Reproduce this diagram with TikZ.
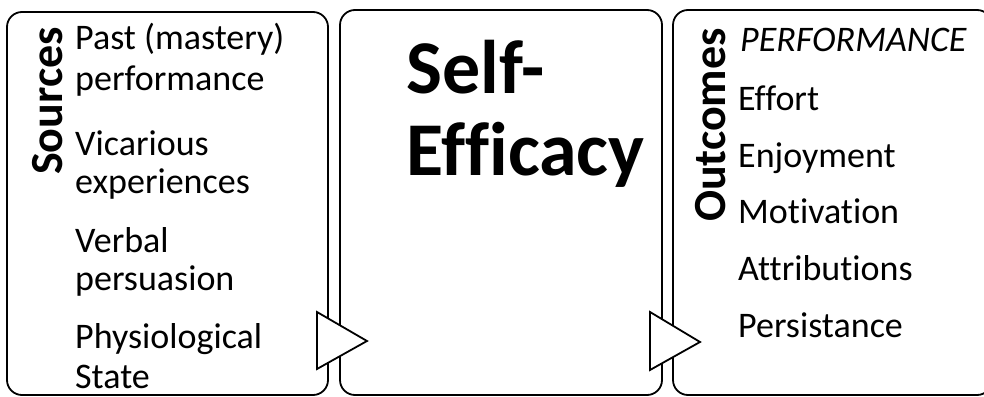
\documentclass[tikz,border=0pt]{standalone}
\usepackage{fontspec}
\setmainfont{Carlito}[Ligatures=NoCommon]
\begin{document}
\begin{tikzpicture}[x=1pt,y=-1pt]
\tikzset{
  panel/.style={draw=black, line width=1.8pt, rounded corners=15pt, fill=white},
  chevron/.style={draw=black, line width=1.8pt, fill=white, line join=miter},
  item/.style={anchor=base west, inner sep=0pt, font=\fontsize{36}{40}\selectfont},
  head/.style={anchor=base, inner sep=0pt, rotate=90, font=\bfseries\fontsize{46}{50}\selectfont},
  title/.style={anchor=base west, inner sep=0pt, font=\bfseries\fontsize{76}{82}\selectfont}
}
\useasboundingbox (0,0) rectangle (984,396);
\clip (0,0) rectangle (984,396);
% panels
\draw[panel] (7,12) rectangle (328,395);
\draw[panel] (340,10) rectangle (662,395);
\draw[panel] (673,10) rectangle (992,395);
% chevrons
\draw[chevron] (317,312) -- (367,341) -- (317,369) -- cycle;
\draw[chevron] (650,312) -- (700,342) -- (650,370) -- cycle;
% sources
\node[head] (src) at (62,101) {Sources};
\node[item] (s1a) at (75,50) {Past (mastery)};
\node[item] (s1b) at (75,90) {performance};
\node[item] (s2a) at (75,155) {Vicarious};
\node[item] (s2b) at (75,193) {experiences};
\node[item] (s3a) at (75,252) {Verbal};
\node[item] (s3b) at (75,290) {persuasion};
\node[item] (s4a) at (75,348) {Physiological};
\node[item] (s4b) at (75,388) {State};
% self-efficacy
\node[title] (se1) at (406,93) {Self-};
\node[title] (se2) at (406,175) {Efficacy};
% outcomes
\node[head] (out) at (725,125) {Outcomes};
\node[item] (o1) at (740,52) {\itshape PERFORMANCE};
\node[item] (o2) at (738,110) {Effort};
\node[item] (o3) at (738,167) {Enjoyment};
\node[item] (o4) at (738,223) {Motivation};
\node[item] (o5) at (738,280) {Attributions};
\node[item] (o6) at (738,337) {Persistance};
\end{tikzpicture}
\end{document}
